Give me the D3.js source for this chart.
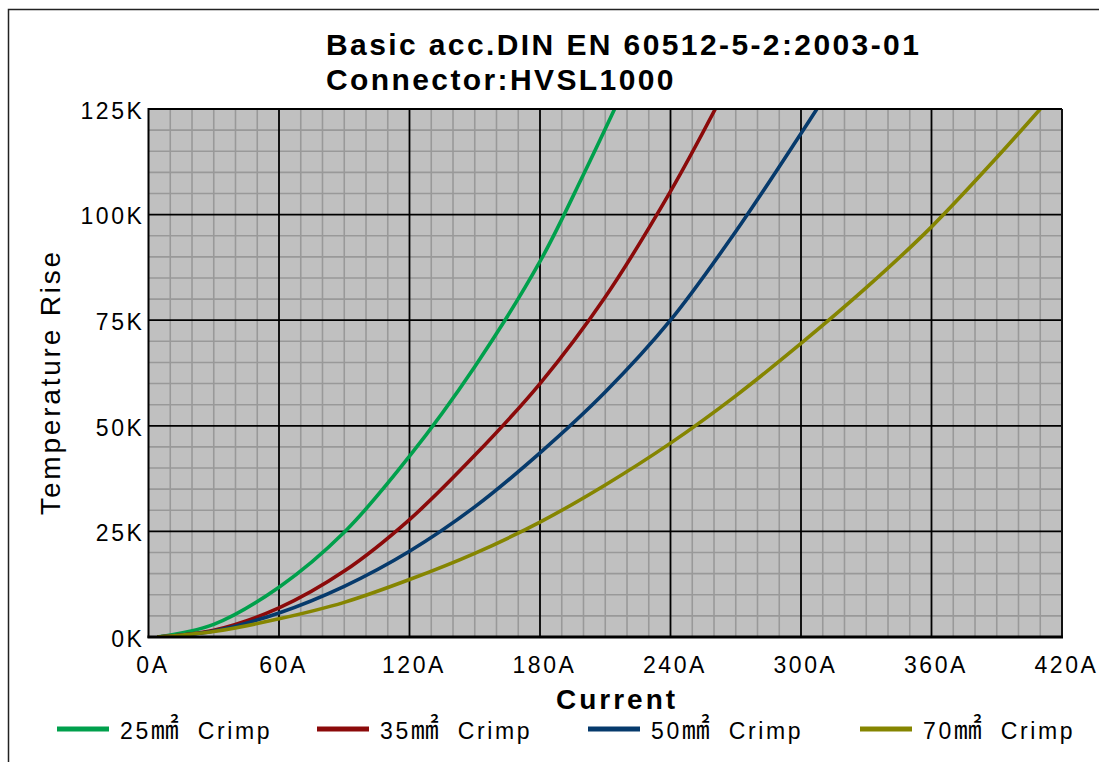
<!DOCTYPE html>
<html>
<head>
<meta charset="utf-8">
<script src="https://cdn.jsdelivr.net/npm/d3@7"></script>
<style>
  html, body { margin: 0; padding: 0; background: #fff; }
  text { font-family: Arial, "Liberation Sans", sans-serif; fill: #000; }
</style>
</head>
<body>
<div id="chart"></div>
<script>
// chart data
var titleLines = ["Basic acc.DIN EN 60512-5-2:2003-01", "Connector:HVSL1000"];
var xTicks = [0, 60, 120, 180, 240, 300, 360, 420];
var yTicks = [0, 25, 50, 75, 100, 125];
var seriesNames = ["25", "35", "50", "70"];
var seriesColors = ["#00a04c", "#8b0a0a", "#063a6c", "#858500"];

// [current A, temperature rise K]
var crimp25 = [[4, 0], [30, 3], [60, 11.8], [90, 24.8], [120, 42.8], [150, 64],
    [180, 88.9], [200, 109.5], [214.3, 125]];
var crimp35 = [[4, 0], [30, 1.6], [60, 6.9], [90, 15.6], [120, 27.8], [150, 43],
    [180, 60], [210, 80.5], [240, 105.5], [260.6, 125]];
var crimp50 = [[4, 0], [30, 1.4], [60, 5.7], [90, 12], [120, 20.3], [150, 30.8],
    [180, 43.6], [210, 58], [240, 75], [270, 96], [300, 119.2], [307.3, 125]];
var crimp70 = [[4, 0], [30, 1.3], [60, 4.3], [90, 8.2], [120, 13.6], [150, 19.8],
    [180, 27.2], [210, 36], [240, 45.9], [270, 57.1], [300, 69.5], [330, 82.7],
    [360, 97.1], [390, 113.5], [410, 125]];
var seriesData = [crimp25, crimp35, crimp50, crimp70];

var width = 1099,
    height = 762,
    pLeft = 148.5,
    pRight = 1062,
    pTop = 109,
    pBottom = 637;

var svg = d3.select("#chart").append("svg")
    .attr("width", width)
    .attr("height", height);

var x = d3.scaleLinear().domain([0, 420]).range([pLeft, pRight]),
    y = d3.scaleLinear().domain([0, 125]).range([pBottom, pTop]);

// outer frame
svg.append("path")
    .attr("d", "M8.5," + height + "V9.5H" + width)
    .attr("fill", "none")
    .attr("stroke", "#222")
    .attr("stroke-width", 1.5);

// title
svg.append("g").selectAll("text")
    .data(titleLines)
    .enter().append("text")
    .attr("x", 326)
    .attr("y", function(d, i) { return 55 + i * 35; })
    .style("font-size", "30px")
    .style("font-weight", "bold")
    .style("letter-spacing", "2.4px")
    .text(function(d) { return d; });

// plot background
svg.append("rect")
    .attr("x", pLeft).attr("y", pTop)
    .attr("width", pRight - pLeft).attr("height", pBottom - pTop)
    .attr("fill", "#c0c0c0");

// minor grid
var grid = svg.append("g");
grid.selectAll(".vminor")
    .data(d3.range(10, 420, 10).filter(function(v) { return v % 60 != 0; }))
    .enter().append("line")
    .attr("x1", function(d) { return x(d); }).attr("x2", function(d) { return x(d); })
    .attr("y1", pTop).attr("y2", pBottom)
    .attr("stroke", "#999").attr("stroke-width", 1.6);
grid.selectAll(".hminor")
    .data(d3.range(5, 125, 5).filter(function(v) { return v % 25 != 0; }))
    .enter().append("line")
    .attr("x1", pLeft).attr("x2", pRight)
    .attr("y1", function(d) { return y(d); }).attr("y2", function(d) { return y(d); })
    .attr("stroke", "#999").attr("stroke-width", 1.6);

// major grid
grid.selectAll(".vmajor")
    .data(xTicks.slice(1, -1))
    .enter().append("line")
    .attr("x1", function(d) { return x(d); }).attr("x2", function(d) { return x(d); })
    .attr("y1", pTop).attr("y2", pBottom)
    .attr("stroke", "#000").attr("stroke-width", 1.8);
grid.selectAll(".hmajor")
    .data(yTicks.slice(1, -1))
    .enter().append("line")
    .attr("x1", pLeft).attr("x2", pRight)
    .attr("y1", function(d) { return y(d); }).attr("y2", function(d) { return y(d); })
    .attr("stroke", "#000").attr("stroke-width", 1.8);

// curves
svg.append("clipPath").attr("id", "plotclip")
    .append("rect")
    .attr("x", pLeft).attr("y", pTop)
    .attr("width", pRight - pLeft).attr("height", pBottom - pTop);

var line = d3.line()
    .curve(d3.curveCatmullRom.alpha(0.5))
    .x(function(d) { return x(d[0]); })
    .y(function(d) { return y(d[1]); });

svg.append("g")
    .attr("clip-path", "url(#plotclip)")
    .selectAll("path")
    .data(seriesData)
    .enter().append("path")
    .attr("d", line)
    .attr("fill", "none")
    .attr("stroke", function(d, i) { return seriesColors[i]; })
    .attr("stroke-width", 3.6);

// plot border
svg.append("line").attr("x1", pLeft).attr("x2", pRight).attr("y1", pTop).attr("y2", pTop)
    .attr("stroke", "#000").attr("stroke-width", 2);
svg.append("line").attr("x1", pRight).attr("x2", pRight).attr("y1", pTop).attr("y2", pBottom)
    .attr("stroke", "#111").attr("stroke-width", 2);
svg.append("line").attr("x1", pLeft).attr("x2", pLeft).attr("y1", pTop - 1).attr("y2", pBottom + 1)
    .attr("stroke", "#000").attr("stroke-width", 2);
svg.append("line").attr("x1", pLeft - 1).attr("x2", pRight + 1).attr("y1", pBottom).attr("y2", pBottom)
    .attr("stroke", "#000").attr("stroke-width", 3);

// axes labels
var xAxis = svg.append("g")
    .attr("transform", "translate(0," + pBottom + ")")
    .call(d3.axisBottom(x).tickValues(xTicks).tickSize(0).tickFormat(function(d) { return d + "A"; }));
xAxis.select(".domain").remove();
xAxis.selectAll("text")
    .attr("y", 36)
    .attr("dy", 0)
    .attr("dx", 4)
    .style("font-size", "23px")
    .style("letter-spacing", "2.6px")
    .style("font-family", "Arial, 'Liberation Sans', sans-serif")
    .attr("fill", "#000");

var yAxis = svg.append("g")
    .attr("transform", "translate(" + pLeft + ",0)")
    .call(d3.axisLeft(y).tickValues(yTicks).tickSize(0).tickFormat(function(d) { return d + "K"; }));
yAxis.select(".domain").remove();
yAxis.selectAll("text")
    .attr("x", -4)
    .attr("dy", "0.4em")
    .style("font-size", "23px")
    .style("letter-spacing", "2.6px")
    .style("font-family", "Arial, 'Liberation Sans', sans-serif")
    .attr("fill", "#000");

svg.append("text")
    .attr("x", 617)
    .attr("y", 709)
    .attr("text-anchor", "middle")
    .style("font-size", "28px")
    .style("font-weight", "bold")
    .style("letter-spacing", "3px")
    .text("Current");

svg.append("text")
    .attr("transform", "translate(60,382) rotate(-90)")
    .attr("text-anchor", "middle")
    .style("font-size", "28px")
    .style("letter-spacing", "2.8px")
    .text("Temperature Rise");

// legend
var legendX = [57, 317, 588, 860];
var legend = svg.append("g").selectAll("g")
    .data(seriesNames)
    .enter().append("g")
    .attr("transform", function(d, i) { return "translate(" + legendX[i] + ",729)"; });

legend.append("line")
    .attr("x1", 0).attr("x2", 52)
    .attr("stroke", function(d, i) { return seriesColors[i]; })
    .attr("stroke-width", 5);

var lt = legend.append("text")
    .attr("x", 63)
    .attr("y", 10)
    .style("font-size", "23px")
    .style("letter-spacing", "2.6px");
lt.append("tspan").text(function(d) { return d; });
lt.append("tspan")
    .style("font-family", "'Noto Sans CJK JP', sans-serif")
    .style("font-size", "28px")
    .style("letter-spacing", "6px")
    .text("\u339F");
lt.append("tspan").attr("dx", 4).text(" Crimp");
</script>
</body>
</html>
